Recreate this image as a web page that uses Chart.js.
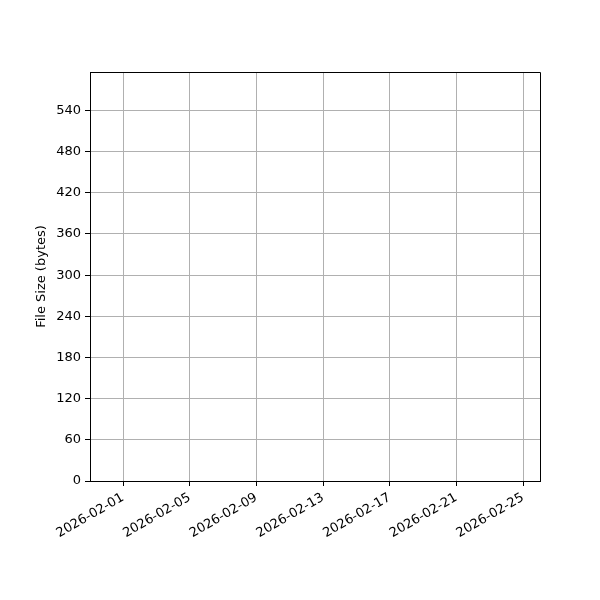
<!DOCTYPE html>
<html>
<head>
<meta charset="utf-8">
<script src="https://cdn.jsdelivr.net/npm/chart.js@4.4.1/dist/chart.umd.min.js"></script>
<style>
  html, body { margin: 0; padding: 0; background: #fff; }
  #wrap { width: 600px; height: 600px; }
</style>
</head>
<body>
<div id="wrap"><canvas id="chart" width="600" height="600"></canvas></div>
<script>
// Chart data (the reference plot is empty: no points are drawn)
const dates = [];        // 'YYYY-MM-DD'
const fileSizes = [];    // bytes

// Axis ranges and ticks
const startDate = '2026-02-01';
const xTickDays = [0, 4, 8, 12, 16, 20, 24];      // days after startDate
const xRange = [-1.98, 25.02];
const yTicks = [0, 60, 120, 180, 240, 300, 360, 420, 480, 540];
const yMax = 596;

const DAY = 86400000;
const base = Date.parse(startDate + 'T00:00:00Z');

function dayLabel(d) {
    return new Date(base + d * DAY).toISOString().slice(0, 10);
}

const points = dates.map((d, i) => ({
    x: (Date.parse(d + 'T00:00:00Z') - base) / DAY,
    y: fileSizes[i]
}));

// draws the black frame round the plot area
const frame = {
    id: 'frame',
    afterDatasetsDraw(chart) {
        const { ctx, chartArea: a } = chart;
        ctx.save();
        ctx.strokeStyle = '#000';
        ctx.lineWidth = 1;
        ctx.beginPath();
        ctx.moveTo(a.left, Math.round(a.top) + 0.5);
        ctx.lineTo(Math.round(a.right) + 0.5, Math.round(a.top) + 0.5);
        ctx.lineTo(Math.round(a.right) + 0.5, a.bottom);
        ctx.stroke();
        ctx.restore();
    }
};

const font = { family: 'DejaVu Sans', size: 13 };

new Chart(document.getElementById('chart').getContext('2d'), {
    type: 'line',
    data: {
        datasets: [{
            label: 'File Size',
            data: points,
            borderColor: '#1f77b4',
            backgroundColor: '#1f77b4',
            pointRadius: 3,
            borderWidth: 1.5
        }]
    },
    options: {
        responsive: false,
        animation: false,
        layout: { padding: { top: 72, right: 60, left: 0, bottom: 0 } },
        plugins: { legend: { display: false }, tooltip: { enabled: false } },
        scales: {
            x: {
                type: 'linear',
                min: xRange[0],
                max: xRange[1],
                afterBuildTicks(scale) {
                    scale.ticks = xTickDays.map(v => ({ value: v }));
                },
                afterFit(scale) { scale.height = 119; },
                ticks: {
                    color: '#000',
                    font: font,
                    minRotation: 30,
                    maxRotation: 30,
                    padding: 4,
                    callback: v => dayLabel(v)
                },
                grid: { color: '#b0b0b0', tickColor: '#000', tickLength: 5, lineWidth: 1 },
                border: { color: '#000' }
            },
            y: {
                min: 0,
                max: yMax,
                afterBuildTicks(scale) {
                    scale.ticks = yTicks.map(v => ({ value: v }));
                },
                afterFit(scale) { scale.width = 90; },
                ticks: { color: '#000', font: font, padding: 4 },
                grid: { color: '#b0b0b0', tickColor: '#000', tickLength: 5, lineWidth: 1 },
                border: { color: '#000' },
                title: {
                    display: true,
                    text: 'File Size (bytes)',
                    color: '#000',
                    font: font,
                    padding: { top: 34, bottom: 0 }
                }
            }
        }
    },
    plugins: [frame]
});
</script>
</body>
</html>
